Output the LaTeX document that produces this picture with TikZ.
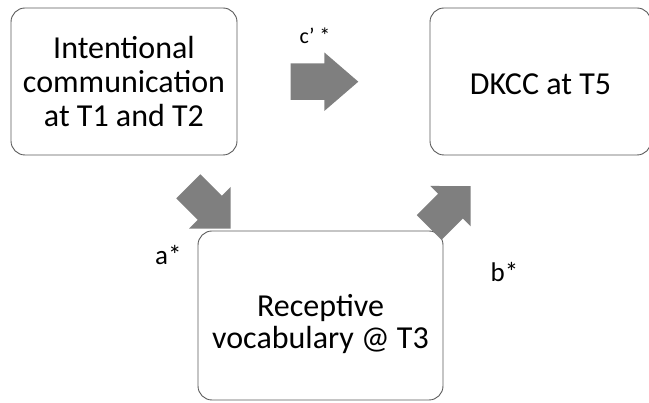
\documentclass[tikz,border=0pt]{standalone}
\usepackage{fontspec}
\setmainfont{Carlito}
\definecolor{boxline}{RGB}{90,90,90}
\definecolor{arrowfill}{RGB}{127,127,127}
\tikzset{
  box/.style={draw=boxline, line width=0.9pt, rounded corners=14pt,
    inner sep=0pt},
  boxtext/.style={align=center, inner sep=0pt, font=\fontsize{32}{34}\selectfont},
  blockarrow/.style={fill=arrowfill, draw=none},
  lab/.style={anchor=base west, inner sep=0pt, font=\fontsize{27}{30}\selectfont},
}
\begin{document}
\begin{tikzpicture}[x=1pt,y=1pt]
\useasboundingbox (0,0) rectangle (649,403);
% boxes
\node[box, boxtext, minimum width=226pt, minimum height=147pt] (ic) at (124,321.5)
  {Intentional\\communication\\at T1 and T2};
\node[box, minimum width=221pt, minimum height=147pt] (dk) at (540.5,321.5) {};
\node[boxtext] (dkt) at ([yshift=-3pt]dk.center) {DKCC at T5};
\node[box, minimum width=245pt, minimum height=169pt] (rv) at (320.5,87.5) {};
\node[boxtext, font=\fontsize{32}{32}\selectfont] (rvt) at ([yshift=-9pt]rv.center)
  {Receptive\\vocabulary @ T3};
% block arrows (tail midpoint, direction)
\coordinate (ctail) at (290.7,321.3);
\begin{scope}[shift={(ctail)}]
  \fill[blockarrow] (0,-18.3) -- (33.6,-18.3) -- (33.6,-29.3) -- (67.6,0)
    -- (33.6,29.3) -- (33.6,18.3) -- (0,18.3) -- cycle;
\end{scope}
\coordinate (atail) at (188.3,216.7);
\begin{scope}[shift={(atail)}, rotate=-45]
  \fill[blockarrow] (0,-17) -- (30.5,-17) -- (30.5,-29.5) -- (60,0)
    -- (30.5,29.5) -- (30.5,17) -- (0,17) -- cycle;
\end{scope}
\coordinate (btail) at (429.2,175.5);
\begin{scope}[shift={(btail)}, rotate=45]
  \fill[blockarrow] (0,-17.5) -- (30.2,-17.5) -- (30.2,-28.5) -- (58.6,0)
    -- (30.2,28.5) -- (30.2,17.5) -- (0,17.5) -- cycle;
\end{scope}
% labels
\node[lab, font=\fontsize{22}{26}\selectfont] (cl) at (299.5,359.7) {c’ *};
\node[lab] (al) at (155,138) {a*};
\node[lab] (bl) at (490.5,121.3) {b*};
\end{tikzpicture}
\end{document}
